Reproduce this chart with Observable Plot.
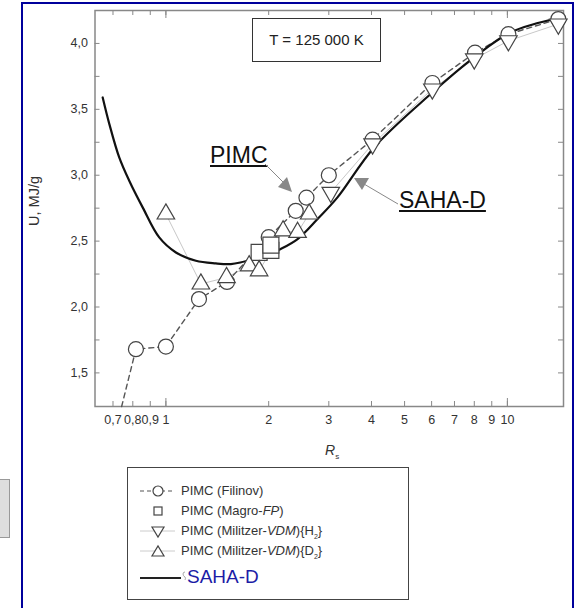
<!DOCTYPE html>
<html><head><meta charset="utf-8">
<script src="https://cdn.jsdelivr.net/npm/d3@7"></script>
<script src="https://cdn.jsdelivr.net/npm/@observablehq/plot@0.6"></script>
<style>
body{margin:0;background:#fff;font-family:Arial,"Liberation Sans",sans-serif;}
#wrap{position:relative;width:574px;height:608px;overflow:hidden;background:#fff;}
#chart{position:absolute;left:0;top:0;}
.abs{position:absolute;}
#blue{left:21px;top:2px;width:549px;height:640px;border:2px solid #00009c;box-sizing:content-box;}
#grey{left:-2px;top:479px;width:10px;height:57px;background:#dedede;border:1px solid #999;}
#tbox{left:252px;top:18px;width:127px;height:42px;border:1.5px solid #333;font-size:15px;color:#222;text-align:center;line-height:42px;}
.ann{font-size:23px;color:#111;text-decoration:underline;text-decoration-thickness:2px;text-underline-offset:2px;line-height:1;}
#ylab{left:34px;top:201px;font-size:14.5px;color:#333;transform:translate(-50%,-50%) rotate(-90deg);white-space:nowrap;}
#xlab{left:325px;top:442px;font-size:14px;color:#333;font-style:italic;}
#xlab sub{font-size:8px;font-style:normal;}
#legend{left:127px;top:467px;width:280px;height:131px;border:1.5px solid #444;}
.lrow{position:absolute;left:53px;font-family:"Liberation Sans Narrow","Arial Narrow",Arial,sans-serif;font-size:13px;color:#333;white-space:nowrap;}
</style></head><body>
<div id="wrap">
<div id="chart"></div>
<div class="abs" id="blue"></div>
<div class="abs" id="grey"></div>
<div class="abs" id="tbox">T = 125 000 K</div>
<div class="abs ann" style="left:210px;top:144px;">PIMC</div>
<div class="abs ann" style="left:399px;top:189px;">SAHA-D</div>
<div class="abs" id="ylab">U, MJ/g</div>
<div class="abs" id="xlab">R<sub>s</sub></div>
<svg class="abs" style="left:0;top:0" width="574" height="608">
  <line x1="265" y1="164" x2="284" y2="183" stroke="#888" stroke-width="1"/>
  <polygon points="292,192 278,187 287,177" fill="#888"/>
  <line x1="398" y1="204" x2="364" y2="184" stroke="#888" stroke-width="1"/>
  <polygon points="354,178 369,178 362,190" fill="#888"/>
</svg>
<div class="abs" id="legend">
  <svg class="abs" style="left:0;top:0" width="280" height="131">
    <line x1="12" y1="23" x2="47" y2="23" stroke="#555" stroke-width="1.2" stroke-dasharray="4,3"/>
    <circle cx="30" cy="23" r="5" fill="#fff" stroke="#444" stroke-width="1.2"/>
    <rect x="26" y="39" width="8" height="8" fill="#fff" stroke="#444" stroke-width="1.2"/>
    <line x1="12" y1="63" x2="47" y2="63" stroke="#ccc" stroke-width="1"/>
    <polygon points="24,59 36,59 30,69" fill="#fff" stroke="#444" stroke-width="1.2"/>
    <line x1="12" y1="83" x2="47" y2="83" stroke="#ccc" stroke-width="1"/>
    <polygon points="24,88 36,88 30,78" fill="#fff" stroke="#444" stroke-width="1.2"/>
    <line x1="12" y1="110" x2="53" y2="110" stroke="#222" stroke-width="2"/>
    <path d="M57,104 q-2,0 -2,2 q0,2 2,3 q1,1 0,3" fill="none" stroke="#aaa" stroke-width="1"/>
  </svg>
  <div class="lrow" style="top:15px;">PIMC (Filinov)</div>
  <div class="lrow" style="top:35px;">PIMC (Magro-<i>FP</i>)</div>
  <div class="lrow" style="top:55px;">PIMC (Militzer-<i>VDM</i>){H<sub style="font-size:7px">2</sub>}</div>
  <div class="lrow" style="top:75px;">PIMC (Militzer-<i>VDM</i>){D<sub style="font-size:7px">2</sub>}</div>
  <div class="abs" style="left:59px;top:98px;font-size:19px;color:#1c1ca6;white-space:nowrap;">SAHA-D</div>
</div>
</div>
<script>
// SAHA-D curve
const sahaX = [0.653, 0.683, 0.73, 0.781, 0.855, 0.956, 1.07, 1.224, 1.40, 1.55, 1.70, 1.94, 2.12, 2.43, 2.78, 3.18, 4.07, 5.96, 7.99, 10.2, 14.3];
const sahaY = [3.59, 3.388, 3.135, 2.958, 2.756, 2.528, 2.414, 2.351, 2.331, 2.326, 2.345, 2.376, 2.427, 2.516, 2.668, 2.832, 3.211, 3.616, 3.894, 4.083, 4.197];
// PIMC (Filinov) circles + dashed line tail entering from below the axis
const filinovX = [0.817, 1.0, 1.25, 1.51, 2.0, 2.40, 2.58, 3.0, 4.03, 6.03, 8.04, 10.07, 14.1];
const filinovY = [1.68, 1.70, 2.06, 2.19, 2.53, 2.73, 2.83, 3.00, 3.27, 3.70, 3.93, 4.07, 4.185];
const filinovTailX = [0.742];
const filinovTailY = [1.245];
// PIMC (Magro-FP) squares
const magroX = [1.875, 2.03, 2.03];
const magroY = [2.414, 2.43, 2.47];
// PIMC (Militzer-VDM){H2} down triangles
const h2X = [3.04, 4.03, 6.03, 8.0, 10.07, 14.1];
const h2Y = [2.87, 3.237, 3.654, 3.882, 4.02, 4.147];
// PIMC (Militzer-VDM){D2} up triangles
const d2X = [1.0, 1.266, 1.505, 1.753, 1.875, 2.204, 2.43, 2.627];
const d2Y = [2.706, 2.175, 2.224, 2.313, 2.275, 2.578, 2.566, 2.706];
// ticks
const xTicks = [0.7, 0.8, 0.9, 1, 2, 3, 4, 5, 6, 7, 8, 9, 10];
const xMajorTicks = [1, 10];
const yTicks = [1.5, 2.0, 2.5, 3.0, 3.5, 4.0];
const yMinorTicks = [1.75, 2.25, 2.75, 3.25, 3.75];

const pts = (xs, ys) => xs.map((x, i) => ({x, y: ys[i]}));
const saha = pts(sahaX, sahaY);
const fil = pts(filinovX, filinovY);
const filLine = pts(filinovTailX, filinovTailY).concat(fil);
const magro = pts(magroX, magroY);
const h2 = pts(h2X, h2Y);
const d2 = pts(d2X, d2Y);

const W = 574, H = 460, mL = 94.5, mR = 11, mT = 10, mB = 54;
const iw = W - mL - mR, ih = H - mT - mB;
const comma = d => String(d).replace(".", ",");
const mk = {stroke: "#444", strokeWidth: 1.2, fill: "#fff"};

const chart = Plot.plot({
  width: W, height: H,
  marginLeft: mL, marginRight: mR, marginTop: mT, marginBottom: mB,
  x: {type: "log", domain: [0.62, 14.6], axis: null},
  y: {domain: [1.245, 4.25], axis: null},
  style: {background: "transparent", fontFamily: "Arial, 'Liberation Sans', sans-serif", fontSize: "12px", color: "#333"},
  marks: [
    Plot.frame({stroke: "#888", strokeWidth: 1.5}),
    // inward ticks
    Plot.ruleY(yTicks.concat(yMinorTicks), {y: d => d, insetRight: iw - 5, stroke: "#888"}),
    Plot.ruleY(yTicks.concat(yMinorTicks), {y: d => d, insetLeft: iw - 5, stroke: "#888"}),
    Plot.ruleX(xTicks, {x: d => d, insetTop: ih - 5, stroke: "#888"}),
    Plot.ruleX(xTicks, {x: d => d, insetBottom: ih - 5, stroke: "#888"}),
    Plot.ruleX(xMajorTicks, {x: d => d, insetTop: ih - 8, stroke: "#888"}),
    Plot.ruleX(xMajorTicks, {x: d => d, insetBottom: ih - 8, stroke: "#888"}),
    // tick labels
    Plot.text(yTicks, {y: d => d, frameAnchor: "left", dx: -7, textAnchor: "end", text: d => d.toFixed(1).replace(".", ","), fill: "#333", fontSize: 12.5}),
    Plot.text(xTicks, {x: d => d, frameAnchor: "bottom", dy: 17, text: comma, fill: "#333", fontSize: 12.5}),
    // series lines
    Plot.line(d2, {x: "x", y: "y", stroke: "#c8c8c8", strokeWidth: 1}),
    Plot.line(h2, {x: "x", y: "y", stroke: "#c8c8c8", strokeWidth: 1}),
    Plot.line(filLine, {x: "x", y: "y", stroke: "#555", strokeWidth: 1.4, strokeDasharray: "5,4"}),
    Plot.line(saha, {x: "x", y: "y", stroke: "#111", strokeWidth: 2.2, curve: "catmull-rom"}),
    // markers
    Plot.dot(fil, {x: "x", y: "y", r: 7.5, symbol: "circle", ...mk}),
    Plot.dot(magro, {x: "x", y: "y", r: 9, symbol: "square", ...mk}),
    Plot.dot(d2, {x: "x", y: "y", r: 6.5, symbol: "triangle", ...mk}),
    Plot.dot(h2, {x: "x", y: "y", r: 6.5, symbol: "triangle", rotate: 180, ...mk})
  ]
});
document.getElementById("chart").appendChild(chart);
</script>
</body></html>
